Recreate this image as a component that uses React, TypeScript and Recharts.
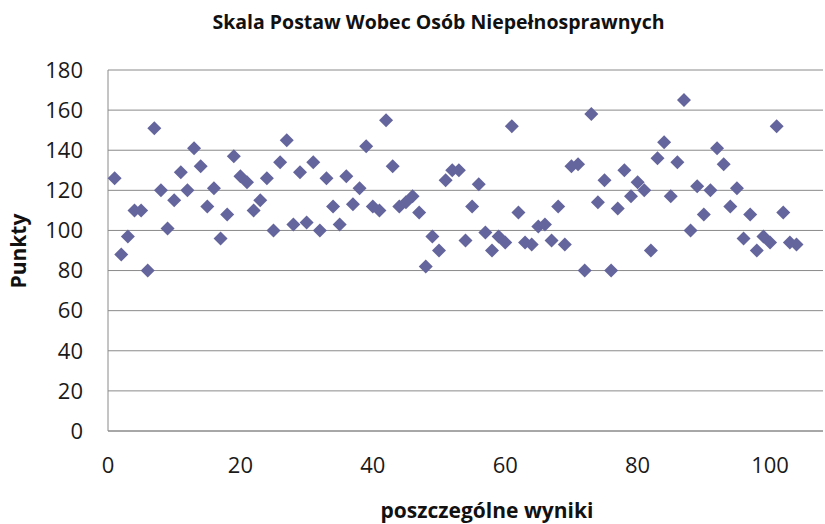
import React from "react";
import { ScatterChart, Scatter, XAxis, YAxis, CartesianGrid } from "recharts";

// wyniki kolejnych osób badanych (Punkty), numeracja od 1
const scores = [
  126, 88, 97, 110, 110, 80, 151, 120, 101, 115,
  129, 120, 141, 132, 112, 121, 96, 108, 137, 127,
  124, 110, 115, 126, 100, 134, 145, 103, 129, 104,
  134, 100, 126, 112, 103, 127, 113, 121, 142, 112,
  110, 155, 132, 112, 114, 117, 109, 82, 97, 90,
  125, 130, 130, 95, 112, 123, 99, 90, 97, 94,
  152, 109, 94, 93, 102, 103, 95, 112, 93, 132,
  133, 80, 158, 114, 125, 80, 111, 130, 117, 124,
  120, 90, 136, 144, 117, 134, 165, 100, 122, 108,
  120, 141, 133, 112, 121, 96, 108, 90, 97, 94,
  152, 109, 94, 93,
];
const xTicks = [0, 20, 40, 60, 80, 100];
const yTicks = [0, 20, 40, 60, 80, 100, 120, 140, 160, 180];

const title = "Skala Postaw Wobec Osób Niepełnosprawnych";
const xLabel = "poszczególne wyniki";
const yLabel = "Punkty";

const points = scores.map((v, i) => ({ x: i + 1, y: v }));

const FONT = "'Open Sans', 'Noto Sans', sans-serif";
const MARK = "#65659E";
const GRID = "#8a8a8a";

const Diamond = (props: any) => {
  const { cx, cy } = props;
  const r = 7;
  return <path d={`M${cx},${cy - r}L${cx + r},${cy}L${cx},${cy + r}L${cx - r},${cy}Z`} fill={MARK} />;
};

export default function App() {
  return (
    <div style={{ position: "absolute", left: 0, top: 0, width: 825, height: 524, background: "#fff", fontFamily: FONT }}>
      <div
        style={{
          position: "absolute", left: 0, top: 8, width: 877, textAlign: "center",
          fontWeight: 700, fontSize: 19.5, color: "#111", whiteSpace: "nowrap",
        }}
      >
        {title}
      </div>
      <ScatterChart width={825} height={524} margin={{ top: 70, right: 2, bottom: 0, left: 0 }}>
        <CartesianGrid vertical={false} stroke={GRID} strokeWidth={1} />
        <XAxis
          type="number" dataKey="x" domain={[0, 108]} ticks={xTicks} height={93}
          tickLine={false} tickMargin={20} axisLine={{ stroke: GRID }}
          tick={{ fontSize: 22, fill: "#1a1a1a", fontFamily: FONT }}
          label={{
            content: () => (
              <text x={487} y={518} textAnchor="middle" fontWeight={700} fontSize={21} fill="#111" fontFamily={FONT}>
                {xLabel}
              </text>
            ),
          }}
        />
        <YAxis
          type="number" dataKey="y" domain={[0, 180]} ticks={yTicks} width={108}
          tickLine={false} tickMargin={19} axisLine={{ stroke: GRID }}
          tick={{ fontSize: 22, fill: "#1a1a1a", fontFamily: FONT }}
          label={{
            content: () => (
              <text x={26} y={251} transform="rotate(-90 26 251)" textAnchor="middle" fontWeight={700} fontSize={21} fill="#111" fontFamily={FONT}>
                {yLabel}
              </text>
            ),
          }}
        />
        <Scatter data={points} shape={<Diamond />} isAnimationActive={false} />
      </ScatterChart>
    </div>
  );
}
